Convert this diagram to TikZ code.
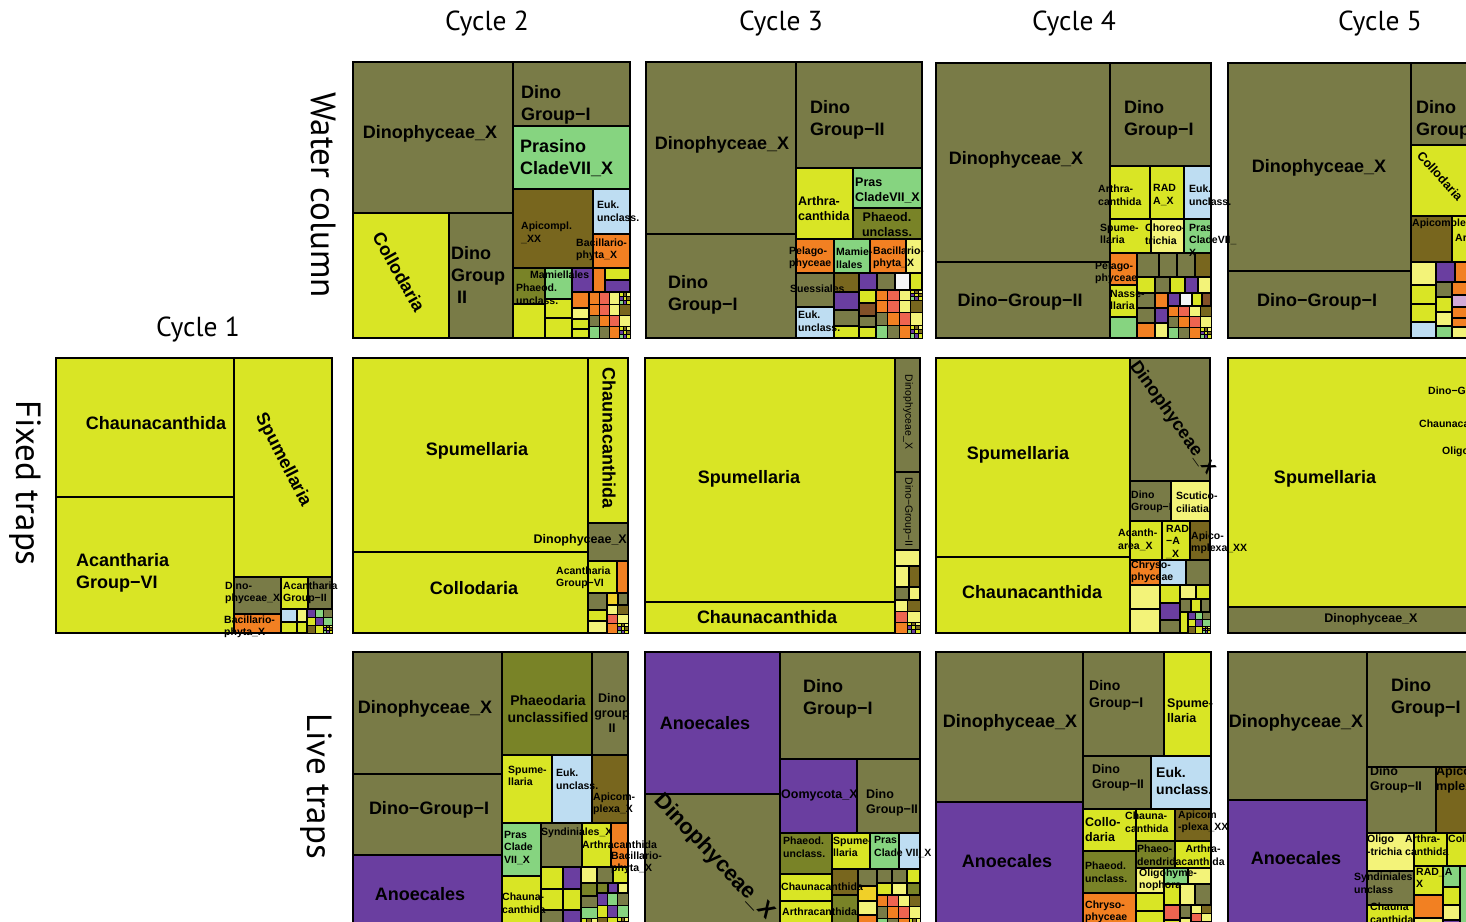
\documentclass[tikz,border=0pt]{standalone}
\usepackage{tikz}
\usepackage{fontspec}
\setmainfont{Liberation Sans}
\newfontfamily\headfont{PT Sans}
\usetikzlibrary{positioning}
\pgfdeclarelayer{fore}
\pgfsetlayers{main,fore}

% taxon colours
\definecolor{dol}{RGB}{121,123,71}
\definecolor{yg}{RGB}{217,229,37}
\definecolor{pal}{RGB}{243,243,121}
\definecolor{bro}{RGB}{120,102,30}
\definecolor{ogr}{RGB}{121,131,39}
\definecolor{pur}{RGB}{106,62,160}
\definecolor{lgr}{RGB}{134,212,128}
\definecolor{lbl}{RGB}{190,221,242}
\definecolor{org}{RGB}{242,128,34}
\definecolor{sal}{RGB}{238,100,80}
\definecolor{gld}{RGB}{240,208,40}
\definecolor{brn}{RGB}{130,80,40}
\definecolor{lil}{RGB}{210,170,215}
\definecolor{wht}{RGB}{245,245,245}
% colours for the small tail cells
\colorlet{m0}{yg}
\colorlet{m1}{dol}
\colorlet{m2}{pal}
\colorlet{m3}{pur}
\colorlet{m4}{org}
\colorlet{m5}{bro}
\colorlet{m6}{lgr}
\colorlet{m7}{sal}

\tikzset{
  cell/.style={draw=black,line width=1.6pt},
  tiny/.style={draw=black,line width=0.9pt},
  lhuge/.style={font=\bfseries\fontsize{22}{26}\selectfont,inner sep=0pt,align=left},
  lbig/.style={font=\bfseries\fontsize{18}{22}\selectfont,inner sep=0pt,align=left},
  lmed/.style={font=\bfseries\fontsize{14}{17}\selectfont,inner sep=0pt,align=left},
  lmid/.style={font=\bfseries\fontsize{12.5}{15}\selectfont,inner sep=0pt,align=left},
  lsmall/.style={font=\bfseries\fontsize{10.5}{12.5}\selectfont,inner sep=0pt,align=left},
  lthin/.style={font=\fontsize{10.5}{12}\selectfont,inner sep=0pt},
  head/.style={font=\headfont\fontsize{27.5}{31}\selectfont,inner sep=0pt},
  rowhead/.style={font=\headfont\fontsize{35}{38}\selectfont,inner sep=0pt,rotate=-90},
}

\newcommand\tcell[3]{\filldraw[cell,fill=#1] (#2) rectangle (#3);}
% grid of tail cells, with a finer grid in its last corner
\newcommand\tmosaic[6]{%
  \pgfmathsetmacro\mdx{(#3-#1)/#5}%
  \pgfmathsetmacro\mdy{(#4-#2)/#6}%
  \foreach \i in {1,...,#5}{
    \foreach \j in {1,...,#6}{
      \pgfmathtruncatemacro\k{mod(\i*3+\j*5+#5,8)}
      \filldraw[tiny,fill=m\k] ({#1+(\i-1)*\mdx},{#2+(\j-1)*\mdy}) rectangle ++(\mdx,\mdy);
    }}
  \pgfmathsetmacro\ndx{\mdx/3}%
  \pgfmathsetmacro\ndy{\mdy/3}%
  \foreach \i in {1,2,3}{
    \foreach \j in {1,2,3}{
      \pgfmathtruncatemacro\k{mod(\i*5+\j*3,8)}
      \filldraw[draw=black,line width=0.7pt,fill=m\k] ({#3-\mdx+(\i-1)*\ndx},{#4-\mdy+(\j-1)*\ndy}) rectangle ++(\ndx,\ndy);
    }}}

\begin{document}
\begin{tikzpicture}[x=1pt,y=-1pt]
\useasboundingbox (0,0) rectangle (1466,921);
\fill[white] (0,0) rectangle (1466,921);

% headings
\node[head] (cyc1) at (198,330) {Cycle 1};
\node[head] (cyc2) at (487,24) {Cycle 2};
\node[head] (cyc3) at (781,24) {Cycle 3};
\node[head] (cyc4) at (1074,24) {Cycle 4};
\node[head] (cyc5) at (1380,24) {Cycle 5};
\node[rowhead] (water) at (324,195) {Water column};
\node[rowhead] (fixed) at (25,483) {Fixed traps};
\node[rowhead] (live) at (316,786) {Live traps};

%%% water column, cycle 2
\tcell{dol}{353,62}{513,213}
\tcell{yg}{353,213}{449,338}
\tcell{dol}{449,213}{513,338}
\tcell{dol}{513,62}{630,126}
\tcell{lgr}{513,126}{630,189}
\tcell{bro}{513,189}{593,268}
\tcell{lbl}{593,189}{630,234}
\tcell{org}{593,234}{630,268}
\tcell{ogr}{513,268}{545,304}
\tcell{lgr}{545,268}{572,299}
\tcell{pur}{572,268}{593,292}
\tcell{org}{593,268}{605,292}
\tcell{yg}{605,268}{630,280}
\tcell{pur}{605,280}{630,292}
\tcell{yg}{513,304}{545,338}
\tcell{yg}{545,299}{572,318}
\tcell{yg}{545,318}{572,338}
\tcell{org}{572,292}{589,308}
\tcell{pal}{572,308}{589,319}
\tcell{yg}{572,319}{589,329}
\tcell{yg}{572,329}{589,338}
\tmosaic{589}{292}{630}{304}{4}{1}
\tmosaic{589}{304}{630}{338}{4}{3}
\begin{pgfonlayer}{fore}
\node[lbig] (w2dinx) at (430,134) {Dinophyceae\_X};
\node[lbig,rotate=-60.6] (w2coll) at (399,272) {Collodaria};
\node[lbig,anchor=west] (w2dg2) at (451,275) {Dino\\Group\\\hspace*{6pt}II};
\node[lbig,anchor=west] (w2dg1) at (521,105) {Dino\\Group−I};
\node[lbig,anchor=west] (w2pras) at (520,158) {Prasino\\CladeVII\_X};
\node[lsmall,anchor=west] (w2api) at (521,233) {Apicompl.\\\_XX};
\node[lsmall,anchor=west] (w2euk) at (597,211) {Euk.\\unclass.};
\node[lsmall,anchor=west] (w2bac) at (576,250) {Bacillario-\\phyta\_X};
\node[lsmall,anchor=west] (w2mam) at (530,275) {Mamiellales};
\node[lsmall,anchor=west] (w2pha) at (516,294) {Phaeod.\\unclass.};
\end{pgfonlayer}

%%% water column, cycle 3
\tcell{dol}{646,62}{796,234}
\tcell{dol}{646,234}{796,338}
\tcell{dol}{796,62}{922,168}
\tcell{yg}{796,168}{853,239}
\tcell{lgr}{853,168}{922,208}
\tcell{ogr}{853,208}{922,239}
\tcell{org}{796,239}{834,273}
\tcell{lgr}{834,239}{870,273}
\tcell{org}{870,239}{906,273}
\tcell{pal}{906,239}{922,273}
\tcell{dol}{796,273}{834,307}
\tcell{lbl}{796,307}{834,338}
\tcell{bro}{834,273}{859,292}
\tcell{pur}{834,292}{859,310}
\tcell{dol}{834,310}{859,326}
\tcell{yg}{834,326}{859,338}
\tcell{pur}{859,273}{877,290}
\tcell{dol}{877,273}{895,290}
\tcell{wht}{895,273}{910,290}
\tcell{yg}{910,273}{922,290}
\tcell{yg}{859,290}{876,303}
\tcell{brn}{859,303}{876,316}
\tcell{dol}{859,316}{876,327}
\tcell{yg}{859,327}{876,338}
\tmosaic{876}{290}{922}{300}{4}{1}
\tmosaic{876}{300}{922}{338}{4}{3}
\begin{pgfonlayer}{fore}
\node[lbig] (w3dinx) at (722,145) {Dinophyceae\_X};
\node[lbig,anchor=west] (w3dg1) at (668,295) {Dino\\Group−I};
\node[lbig,anchor=west] (w3dg2) at (810,120) {Dino\\Group−II};
\node[lmid,anchor=west] (w3art) at (798,209) {Arthra-\\canthida};
\node[lmid,anchor=west] (w3pras) at (855,190) {Pras\\CladeVII\_X};
\node[lmid,align=center] (w3pha) at (887,225) {Phaeod.\\unclass.};
\node[lsmall,anchor=west] (w3pel) at (789,258) {Pelago-\\phyceae};
\node[lsmall,anchor=west] (w3mam) at (836,258) {Mamie-\\llales};
\node[lsmall,anchor=west] (w3bac) at (873,258) {Bacillario-\\phyta\_X};
\node[lsmall,anchor=west] (w3sue) at (790,289) {Suessiales};
\node[lsmall,anchor=west] (w3euk) at (798,321) {Euk.\\unclass.};
\end{pgfonlayer}

%%% water column, cycle 4
\tcell{dol}{936,63}{1110,262}
\tcell{dol}{936,262}{1110,338}
\tcell{dol}{1110,63}{1211,166}
\tcell{yg}{1110,166}{1150,219}
\tcell{yg}{1150,166}{1184,219}
\tcell{lbl}{1184,166}{1211,219}
\tcell{yg}{1110,219}{1151,253}
\tcell{pal}{1151,219}{1184,253}
\tcell{lgr}{1184,219}{1211,253}
\tcell{org}{1110,253}{1137,285}
\tcell{yg}{1110,285}{1137,317}
\tcell{lgr}{1110,317}{1137,338}
\tcell{dol}{1137,253}{1159,277}
\tcell{dol}{1159,253}{1177,277}
\tcell{dol}{1177,253}{1195,277}
\tcell{bro}{1195,253}{1211,277}
\tcell{yg}{1137,277}{1155,293}
\tcell{dol}{1155,277}{1170,293}
\tcell{yg}{1170,277}{1185,293}
\tcell{pur}{1185,277}{1198,293}
\tcell{pal}{1198,277}{1211,293}
\tcell{dol}{1137,293}{1155,308}
\tcell{dol}{1137,308}{1155,323}
\tcell{org}{1137,323}{1155,338}
\tcell{org}{1155,293}{1168,308}
\tcell{pur}{1155,308}{1168,323}
\tcell{pal}{1155,323}{1168,338}
\tcell{pur}{1168,293}{1180,306}
\tcell{wht}{1180,293}{1192,306}
\tcell{yg}{1192,293}{1202,306}
\tcell{brn}{1202,293}{1211,306}
\tmosaic{1168}{306}{1211}{338}{4}{3}
\begin{pgfonlayer}{fore}
\node[lbig] (w4dinx) at (1016,160) {Dinophyceae\_X};
\node[lbig] (w4dg2) at (1020,302) {Dino−Group−II};
\node[lbig,anchor=west] (w4dg1) at (1124,120) {Dino\\Group−I};
\node[lsmall,anchor=west] (w4art) at (1098,195) {Arthra-\\canthida};
\node[lsmall,anchor=west] (w4rad) at (1153,195) {RAD\\A\_X};
\node[lsmall,anchor=west] (w4euk) at (1189,195) {Euk.\\unclass.};
\node[lsmall,anchor=west] (w4spu) at (1100,234) {Spume-\\llaria};
\node[lsmall,anchor=west] (w4cho) at (1145,234) {Choreo-\\trichia};
\node[lsmall,anchor=west] (w4pras) at (1189,240) {Pras\\CladeVII\_\\X};
\node[lsmall,anchor=west] (w4pel) at (1095,273) {Pelago-\\phyceae};
\node[lsmall,anchor=west] (w4nas) at (1110,300) {Nasse-\\llaria};
\end{pgfonlayer}

%%% water column, cycle 5
\tcell{dol}{1228,63}{1411,271}
\tcell{dol}{1228,271}{1411,338}
\tcell{dol}{1411,63}{1505,145}
\tcell{yg}{1411,145}{1505,216}
\tcell{bro}{1411,216}{1452,262}
\tcell{yg}{1452,216}{1505,262}
\tcell{pal}{1411,262}{1436,285}
\tcell{pur}{1436,262}{1455,282}
\tcell{org}{1455,262}{1505,282}
\tcell{yg}{1411,285}{1436,304}
\tcell{yg}{1411,304}{1436,322}
\tcell{lbl}{1411,322}{1436,338}
\tcell{dol}{1436,282}{1452,297}
\tcell{yg}{1436,297}{1452,312}
\tcell{pal}{1436,312}{1452,326}
\tcell{lgr}{1436,326}{1452,338}
\tcell{org}{1452,282}{1467,295}
\tcell{lil}{1452,295}{1467,307}
\tcell{org}{1452,307}{1467,318}
\tcell{org}{1452,318}{1467,327}
\tcell{pal}{1452,327}{1467,338}
\begin{pgfonlayer}{fore}
\node[lbig] (w5dinx) at (1319,168) {Dinophyceae\_X};
\node[lbig] (w5dg1b) at (1317,302) {Dino−Group−I};
\node[lbig,anchor=west] (w5dg1) at (1416,120) {Dino\\Group−I};
\node[lmid,rotate=-48,anchor=north west] (w5coll) at (1423,150) {Collodaria};
\node[lsmall,anchor=west] (w5api) at (1412,224) {Apicomplexa\_XX};
\node[lsmall,anchor=west] (w5art) at (1455,238) {Arthracanthida};
\end{pgfonlayer}

%%% fixed traps, cycle 1
\tcell{yg}{56,358}{234,497}
\tcell{yg}{56,497}{234,633}
\tcell{yg}{234,358}{332,577}
\tcell{dol}{234,577}{281,614}
\tcell{yg}{281,577}{308,609}
\tcell{dol}{308,577}{332,609}
\tcell{org}{234,614}{281,633}
\tcell{lbl}{281,609}{297,622}
\tcell{pal}{297,609}{307,622}
\tcell{yg}{281,622}{297,633}
\tcell{yg}{297,622}{307,633}
\tmosaic{307}{609}{332}{633}{3}{3}
\begin{pgfonlayer}{fore}
\node[lbig] (f1cha) at (156,423) {Chaunacanthida};
\node[lbig,anchor=west] (f1ac6) at (76,573) {Acantharia\\Group−VI};
\node[lbig,rotate=-62.7] (f1spu) at (283,460) {Spumellaria};
\node[lsmall,anchor=west] (f1din) at (225,593) {Dino-\\phyceae\_X};
\node[lsmall,anchor=west] (f1ac2) at (283,593) {Acantharia\\Group−II};
\node[lsmall,anchor=west] (f1bac) at (224,627) {Bacillario-\\phyta\_X};
\end{pgfonlayer}

%%% fixed traps, cycle 2
\tcell{yg}{353,358}{588,552}
\tcell{yg}{353,552}{588,633}
\tcell{yg}{588,358}{628,523}
\tcell{dol}{588,523}{628,561}
\tcell{yg}{588,561}{617,593}
\tcell{org}{617,561}{628,593}
\tcell{dol}{588,593}{607,610}
\tcell{gld}{607,593}{618,605}
\tcell{dol}{618,593}{628,605}
\tcell{yg}{588,610}{607,621}
\tcell{pal}{588,621}{607,633}
\tmosaic{607}{605}{628}{633}{2}{3}
\begin{pgfonlayer}{fore}
\node[lbig] (f2spu) at (477,451) {Spumellaria};
\node[lbig] (f2col) at (474,588) {Collodaria};
\node[lbig,rotate=-90] (f2cha) at (609,438) {Chaunacanthida};
\node[lmid,anchor=east] (f2din) at (627,540) {Dinophyceae\_X};
\node[lsmall,anchor=west] (f2ac6) at (556,578) {Acantharia\\Group−VI};
\end{pgfonlayer}

%%% fixed traps, cycle 3
\tcell{yg}{645,358}{895,602}
\tcell{yg}{645,602}{895,633}
\tcell{dol}{895,358}{920,472}
\tcell{dol}{895,472}{920,550}
\tcell{pal}{895,550}{920,566}
\tcell{pal}{895,566}{909,587}
\tcell{bro}{909,566}{920,587}
\tcell{dol}{895,587}{909,600}
\tcell{pal}{909,587}{920,600}
\tmosaic{895}{600}{920}{633}{2}{3}
\begin{pgfonlayer}{fore}
\node[lbig] (f3spu) at (749,479) {Spumellaria};
\node[lbig] (f3cha) at (767,617) {Chaunacanthida};
\node[lthin,rotate=-90] (f3din) at (908,412) {Dinophyceae\_X};
\node[lthin,rotate=-90] (f3dg2) at (908,512) {Dino−Group−II};
\end{pgfonlayer}

%%% fixed traps, cycle 4
\tcell{yg}{936,358}{1130,557}
\tcell{yg}{936,557}{1130,633}
\tcell{dol}{1130,358}{1210,481}
\tcell{dol}{1130,481}{1171,521}
\tcell{pal}{1171,481}{1210,521}
\tcell{yg}{1130,521}{1162,560}
\tcell{yg}{1162,521}{1190,560}
\tcell{bro}{1190,521}{1210,560}
\tcell{org}{1130,560}{1160,585}
\tcell{lbl}{1160,560}{1186,585}
\tcell{dol}{1186,560}{1210,585}
\tcell{pal}{1130,585}{1160,609}
\tcell{pal}{1130,609}{1160,633}
\tcell{yg}{1160,585}{1180,603}
\tcell{pur}{1160,603}{1180,620}
\tcell{dol}{1160,620}{1180,633}
\tcell{pal}{1180,585}{1196,599}
\tcell{yg}{1196,585}{1210,599}
\tcell{dol}{1180,599}{1191,612}
\tcell{yg}{1191,599}{1201,612}
\tcell{dol}{1201,599}{1210,612}
\tcell{yg}{1180,612}{1188,633}
\tmosaic{1188}{612}{1210}{633}{3}{3}
\begin{pgfonlayer}{fore}
\node[lbig] (f4spu) at (1018,455) {Spumellaria};
\node[lbig] (f4cha) at (1032,592) {Chaunacanthida};
\node[lbig,rotate=-54.5] (f4din) at (1172,418) {Dinophyceae\_X};
\node[lsmall,anchor=west] (f4dg1) at (1131,502) {Dino\\Group−I};
\node[lsmall,anchor=west] (f4scu) at (1176,502) {Scutico-\\ciliatia};
\node[lsmall,anchor=west] (f4aca) at (1118,540) {Acanth-\\area\_X};
\node[lsmall,anchor=west] (f4rad) at (1166,542) {RAD\\−A\\\_X};
\node[lsmall,anchor=west] (f4api) at (1191,543) {Apico-\\mplexa\_XX};
\node[lsmall,anchor=west] (f4chr) at (1131,572) {Chryso-\\phyceae};
\end{pgfonlayer}

%%% fixed traps, cycle 5
\tcell{yg}{1228,358}{1505,607}
\tcell{dol}{1228,607}{1505,633}
\begin{pgfonlayer}{fore}
\node[lbig] (f5spu) at (1325,479) {Spumellaria};
\node[lmid] (f5din) at (1371,619) {Dinophyceae\_X};
\node[lsmall,anchor=west] (f5dg) at (1428,392) {Dino−Group−II};
\node[lsmall,anchor=west] (f5cha) at (1419,424) {Chaunacanthida};
\node[lsmall,anchor=west] (f5oli) at (1442,452) {Oligotrichia};
\end{pgfonlayer}

%%% live traps, cycle 2
\tcell{dol}{353,652}{502,774}
\tcell{dol}{353,774}{502,855}
\tcell{pur}{353,855}{502,930}
\tcell{ogr}{502,652}{592,755}
\tcell{dol}{592,652}{628,755}
\tcell{yg}{502,755}{552,823}
\tcell{lbl}{552,755}{592,823}
\tcell{bro}{592,755}{628,823}
\tcell{lgr}{502,823}{541,876}
\tcell{dol}{541,823}{582,867}
\tcell{yg}{582,823}{611,867}
\tcell{org}{611,823}{628,867}
\tcell{yg}{502,876}{541,930}
\tcell{yg}{541,867}{563,889}
\tcell{pur}{563,867}{581,889}
\tcell{yg}{541,889}{563,910}
\tcell{yg}{563,889}{581,910}
\tcell{dol}{541,910}{563,930}
\tcell{pur}{563,910}{581,930}
\tcell{pal}{581,867}{597,883}
\tcell{dol}{597,867}{613,883}
\tcell{yg}{613,867}{628,883}
\tcell{ogr}{581,883}{597,896}
\tcell{ogr}{597,883}{608,893}
\tcell{pur}{608,883}{618,893}
\tcell{pal}{618,883}{628,893}
\tmosaic{581}{896}{597}{930}{1}{3}
\tmosaic{597}{893}{628}{930}{3}{3}
\begin{pgfonlayer}{fore}
\node[lbig] (l2dinx) at (425,709) {Dinophyceae\_X};
\node[lbig] (l2dg1) at (429,810) {Dino−Group−I};
\node[lbig] (l2ano) at (420,894) {Anoecales};
\node[lmed,align=center] (l2pha) at (548,709) {Phaeodaria\\unclassified};
\node[lmid,align=center] (l2dg2) at (612,713) {Dino\\group\\II};
\node[lsmall,anchor=west] (l2spu) at (508,776) {Spume-\\llaria};
\node[lsmall,anchor=west] (l2euk) at (556,779) {Euk.\\unclass.};
\node[lsmall,anchor=west] (l2api) at (593,804) {Apicom-\\plexa\_X};
\node[lsmall,anchor=west] (l2pras) at (504,848) {Pras\\Clade\\VII\_X};
\node[lsmall,anchor=west] (l2syn) at (541,833) {Syndiniales\_X};
\node[lsmall,anchor=west] (l2art) at (582,845) {Arthracanthida};
\node[lsmall,anchor=west] (l2bac) at (611,863) {Bacillario-\\phyta\_X};
\node[lsmall,anchor=west] (l2cha) at (502,903) {Chauna-\\canthida};
\end{pgfonlayer}

%%% live traps, cycle 3
\tcell{pur}{645,652}{780,794}
\tcell{dol}{645,794}{780,930}
\tcell{dol}{780,652}{920,759}
\tcell{pur}{780,759}{857,833}
\tcell{dol}{857,759}{920,833}
\tcell{ogr}{780,833}{832,874}
\tcell{yg}{832,833}{870,869}
\tcell{lgr}{870,833}{899,869}
\tcell{lbl}{899,833}{920,869}
\tcell{yg}{780,874}{832,901}
\tcell{yg}{780,901}{832,930}
\tcell{bro}{832,869}{858,895}
\tcell{ogr}{832,895}{858,930}
\tcell{dol}{858,869}{877,886}
\tcell{gld}{858,886}{877,901}
\tcell{pal}{858,901}{877,915}
\tcell{org}{858,915}{877,930}
\tcell{dol}{877,869}{892,883}
\tcell{dol}{892,869}{907,883}
\tcell{yg}{907,869}{920,883}
\tcell{yg}{877,883}{892,895}
\tcell{pal}{892,883}{907,895}
\tcell{ogr}{907,883}{920,895}
\tmosaic{877}{895}{920}{930}{4}{3}
\begin{pgfonlayer}{fore}
\node[lbig] (l3ano) at (705,723) {Anoecales};
\node[lhuge,rotate=-46.5] (l3dinx) at (714,857) {Dinophyceae\_X};
\node[lbig,anchor=west] (l3dg1) at (803,699) {Dino\\Group−I};
\node[lmid,anchor=west] (l3oom) at (781,795) {Oomycota\_X};
\node[lmid,anchor=west] (l3dg2) at (866,803) {Dino\\Group−II};
\node[lsmall,anchor=west] (l3pha) at (783,847) {Phaeod.\\unclass.};
\node[lsmall,anchor=west] (l3spu) at (833,847) {Spume-\\llaria};
\node[lsmall,anchor=west] (l3pras) at (874,847) {Pras\\Clade VII\_X};
\node[lsmall,anchor=west] (l3cha) at (781,887) {Chaunacanthida};
\node[lsmall,anchor=west] (l3art) at (782,912) {Arthracanthida};
\end{pgfonlayer}

%%% live traps, cycle 4
\tcell{dol}{936,652}{1083,802}
\tcell{pur}{936,802}{1083,930}
\tcell{dol}{1083,652}{1164,756}
\tcell{yg}{1164,652}{1211,756}
\tcell{dol}{1083,756}{1151,809}
\tcell{lbl}{1151,756}{1211,809}
\tcell{yg}{1083,809}{1136,851}
\tcell{yg}{1136,809}{1175,841}
\tcell{bro}{1175,809}{1211,841}
\tcell{ogr}{1136,841}{1175,868}
\tcell{yg}{1175,841}{1211,868}
\tcell{ogr}{1083,851}{1136,893}
\tcell{org}{1083,893}{1136,930}
\tcell{pal}{1136,868}{1164,893}
\tcell{lgr}{1164,868}{1188,884}
\tcell{pal}{1188,868}{1211,884}
\tcell{yg}{1164,884}{1180,905}
\tcell{pal}{1180,884}{1195,905}
\tcell{dol}{1195,884}{1211,905}
\tcell{yg}{1136,893}{1164,911}
\tcell{yg}{1136,911}{1164,930}
\tcell{sal}{1164,905}{1180,920}
\tcell{yg}{1164,920}{1180,930}
\tcell{dol}{1180,905}{1191,918}
\tcell{pal}{1180,918}{1191,930}
\tmosaic{1191}{905}{1211}{930}{2}{3}
\begin{pgfonlayer}{fore}
\node[lbig] (l4dinx) at (1010,723) {Dinophyceae\_X};
\node[lbig] (l4ano) at (1007,861) {Anoecales};
\node[lmed,anchor=west] (l4dg1) at (1089,695) {Dino\\Group−I};
\node[lmid,anchor=west] (l4spu) at (1167,711) {Spume-\\llaria};
\node[lmid,anchor=west] (l4dg2) at (1092,778) {Dino\\Group−II};
\node[lmed,anchor=west] (l4euk) at (1156,781) {Euk.\\unclass.};
\node[lmid,anchor=west] (l4col) at (1085,830) {Collo-\\daria};
\node[lsmall,anchor=west] (l4cha) at (1125,822) {Chauna-\\canthida};
\node[lsmall,anchor=west] (l4api) at (1178,822) {Apicom\\-plexa\_XX};
\node[lsmall,anchor=west] (l4phd) at (1137,855) {Phaeo-\\dendrida};
\node[lsmall,align=center] (l4art) at (1203,855) {Arthra-\\canthida};
\node[lsmall,anchor=west] (l4pha) at (1085,872) {Phaeod.\\unclass.};
\node[lsmall,anchor=west] (l4oli) at (1139,880) {Oligohyme-\\nophora};
\node[lsmall,anchor=west] (l4chr) at (1085,912) {Chryso-\\phyceae};
\end{pgfonlayer}

%%% live traps, cycle 5
\tcell{dol}{1228,652}{1367,800}
\tcell{pur}{1228,800}{1367,930}
\tcell{dol}{1367,652}{1505,767}
\tcell{dol}{1367,767}{1436,833}
\tcell{bro}{1436,767}{1505,833}
\tcell{pal}{1367,833}{1414,871}
\tcell{yg}{1414,833}{1447,866}
\tcell{yg}{1447,833}{1505,866}
\tcell{dol}{1367,871}{1414,905}
\tcell{yg}{1367,905}{1414,930}
\tcell{yg}{1414,866}{1443,895}
\tcell{lgr}{1443,866}{1460,887}
\tcell{org}{1414,895}{1443,918}
\tcell{pal}{1414,918}{1443,930}
\tcell{yg}{1443,887}{1460,905}
\tcell{pal}{1443,905}{1460,920}
\tcell{pur}{1443,920}{1460,930}
\tcell{lgr}{1460,866}{1505,930}
\begin{pgfonlayer}{fore}
\node[lbig] (l5dinx) at (1296,723) {Dinophyceae\_X};
\node[lbig] (l5ano) at (1296,858) {Anoecales};
\node[lbig,anchor=west] (l5dg1) at (1391,698) {Dino\\Group−I};
\node[lmid,anchor=west] (l5dg2) at (1370,780) {Dino\\Group−II};
\node[lmid,anchor=west] (l5api) at (1436,780) {Apico-\\mplexa\_X};
\node[lsmall,anchor=west] (l5oli) at (1367,845) {Oligo\\-trichia};
\node[lsmall,anchor=west] (l5art) at (1405,845) {Arthra-\\canthida};
\node[lsmall,anchor=west] (l5col) at (1448,839) {Collodaria};
\node[lsmall,anchor=west] (l5syn) at (1354,883) {Syndiniales\\unclass};
\node[lsmall,anchor=west] (l5rad) at (1416,878) {RAD\_A\\X};
\node[lsmall,anchor=west] (l5cha) at (1370,913) {Chauna\\canthida};
\end{pgfonlayer}
\end{tikzpicture}
\end{document}
